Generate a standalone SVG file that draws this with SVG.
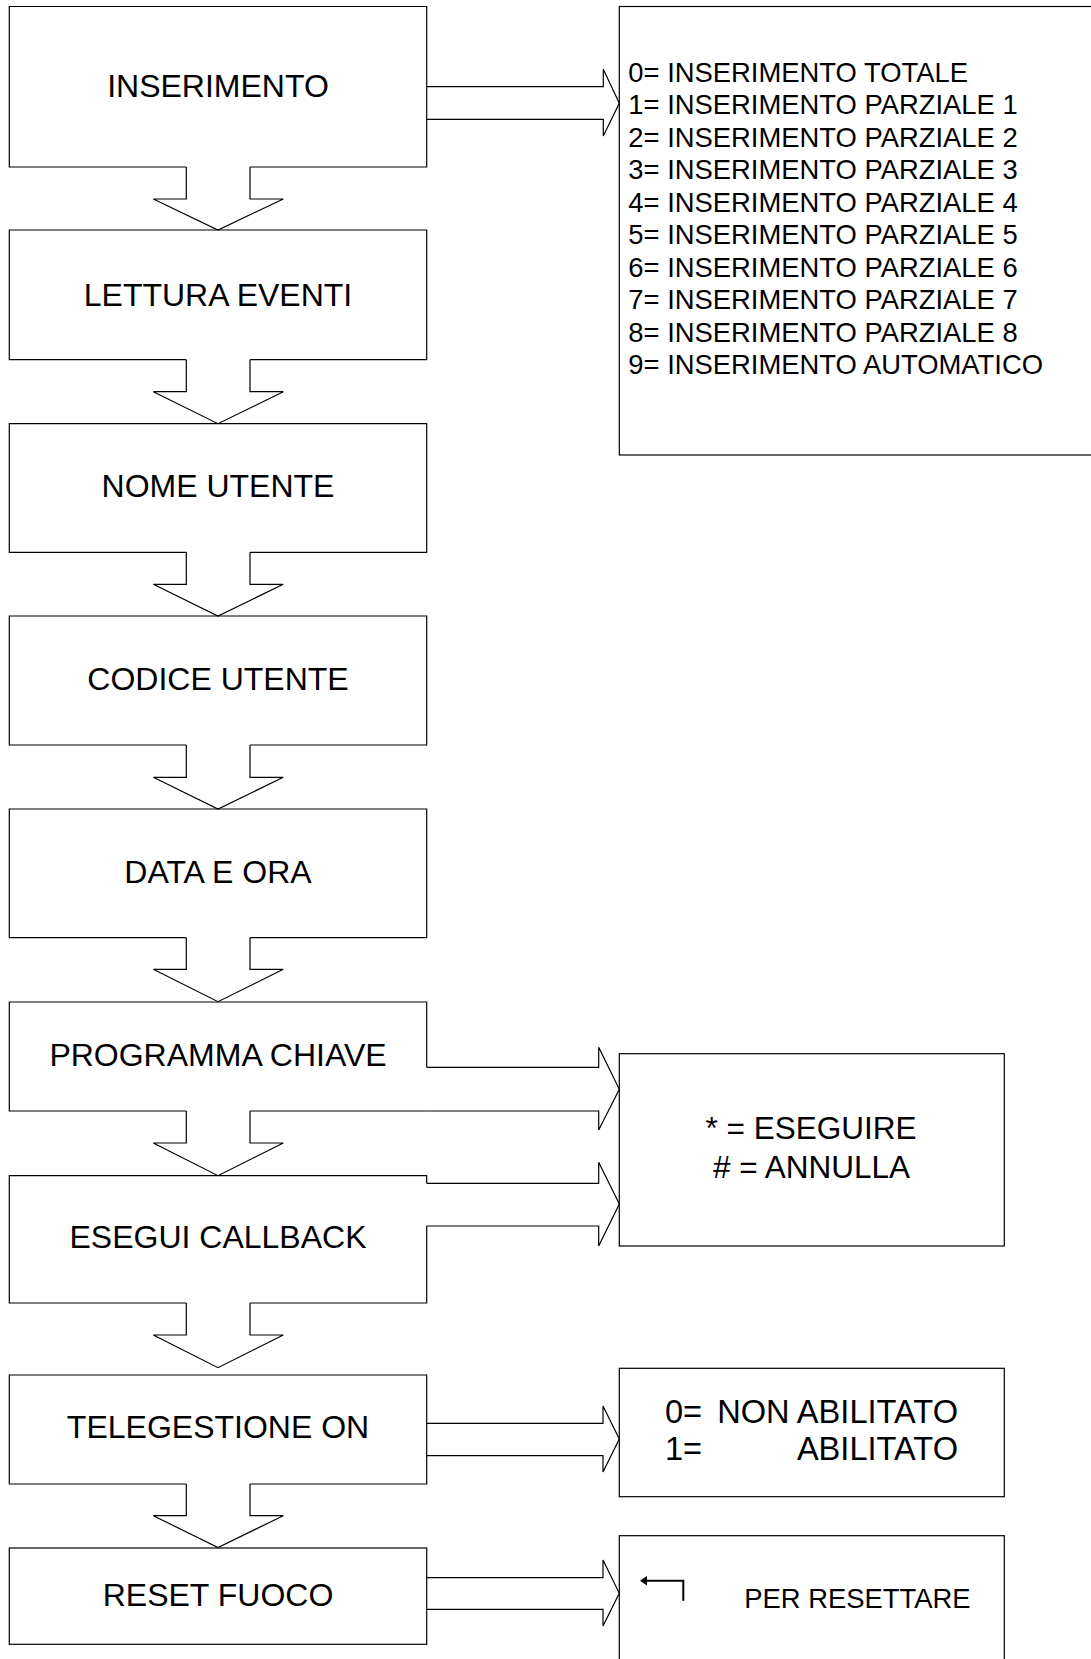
<svg xmlns="http://www.w3.org/2000/svg" width="1091" height="1659" viewBox="0 0 1091 1659">
<style>
.ln{fill:none;stroke:#000;stroke-width:1.2}
.t{font-family:"Liberation Sans",Arial,sans-serif;fill:#000}
.m{font-size:32px;text-anchor:middle}
.s{font-size:27.4px}
.c{font-size:31.5px}
.a{font-size:32.6px}
</style>
<rect width="1091" height="1659" fill="#fff"/>
<g id="n-inserimento"><path class="ln" d="M186.3,167 H9.3 V6.5 H426.7 V167 H250"/><text class="t m" x="218" y="96.7">INSERIMENTO</text></g>
<g id="n-lettura"><path class="ln" d="M186.3,359.7 H9.3 V230 H426.7 V359.7 H250"/><text class="t m" x="218" y="305.5">LETTURA EVENTI</text></g>
<g id="n-nome"><path class="ln" d="M186.3,552.3 H9.3 V423.7 H426.7 V552.3 H250"/><text class="t m" x="218" y="497.3">NOME UTENTE</text></g>
<g id="n-codice"><path class="ln" d="M186.3,745 H9.3 V616 H426.7 V745 H250"/><text class="t m" x="218" y="690">CODICE UTENTE</text></g>
<g id="n-data"><path class="ln" d="M186.3,937.7 H9.3 V809 H426.7 V937.7 H250"/><text class="t m" x="218" y="883.3">DATA E ORA</text></g>
<g id="n-chiave"><path class="ln" d="M186.3,1111 H9.3 V1002 H426.7 V1067.3 M426.7,1111 H250"/><text class="t m" x="218" y="1065.7">PROGRAMMA CHIAVE</text></g>
<g id="n-callback"><path class="ln" d="M186.3,1303 H9.3 V1175.7 H426.7 V1183.3 M426.7,1226 V1303 H250"/><text class="t m" x="218" y="1248.3">ESEGUI CALLBACK</text></g>
<g id="n-telegestione"><path class="ln" d="M186.3,1484 H9.3 V1375 H426.7 V1484 H250"/><text class="t m" x="218" y="1438.3">TELEGESTIONE ON</text></g>
<g id="n-reset"><rect class="ln" x="9.3" y="1548" width="417.4" height="96.3"/><text class="t m" x="218" y="1605.7">RESET FUOCO</text></g>
<g id="n-lista">
<rect class="ln" x="619.3" y="6.5" width="480" height="448.5"/>
<g class="t s">
<text x="628.3" y="81.7">0= INSERIMENTO TOTALE</text>
<text x="628.3" y="114.2">1= INSERIMENTO PARZIALE 1</text>
<text x="628.3" y="146.7">2= INSERIMENTO PARZIALE 2</text>
<text x="628.3" y="179.2">3= INSERIMENTO PARZIALE 3</text>
<text x="628.3" y="211.7">4= INSERIMENTO PARZIALE 4</text>
<text x="628.3" y="244.2">5= INSERIMENTO PARZIALE 5</text>
<text x="628.3" y="276.7">6= INSERIMENTO PARZIALE 6</text>
<text x="628.3" y="309.2">7= INSERIMENTO PARZIALE 7</text>
<text x="628.3" y="341.7">8= INSERIMENTO PARZIALE 8</text>
<text x="628.3" y="374.2">9= INSERIMENTO AUTOMATICO</text>
</g>
</g>
<g id="n-eseguire"><rect class="ln" x="619.3" y="1053.7" width="385" height="192.3"/><text class="t c" x="811" y="1139" text-anchor="middle">* = ESEGUIRE</text><text class="t c" x="811.5" y="1177.7" text-anchor="middle"># = ANNULLA</text></g>
<g id="n-abilitato"><rect class="ln" x="619.3" y="1368.3" width="385" height="128.4"/><text class="t a" x="665" y="1422.7">0=</text><text class="t a" x="958" y="1422.7" text-anchor="end">NON ABILITATO</text><text class="t a" x="665" y="1460">1=</text><text class="t a" x="958" y="1460" text-anchor="end">ABILITATO</text></g>
<g id="n-resettare"><rect class="ln" x="619.3" y="1535.7" width="385" height="140"/><path d="M645,1580.7 H683.3 V1600.7" fill="none" stroke="#000" stroke-width="2"/><polygon points="640,1580.7 647,1576 647,1585.4" fill="#000"/><text class="t s" x="744.3" y="1607.7">PER RESETTARE</text></g>
<g id="connectors">
<polyline class="ln" points="186.3,167 186.3,199 153.3,199 218,230 283.3,199 250,199 250,167"/>
<polyline class="ln" points="186.3,359.7 186.3,391.7 153.3,391.7 218,423.7 283.3,391.7 250,391.7 250,359.7"/>
<polyline class="ln" points="186.3,552.3 186.3,584.3 153.3,584.3 218,616 283.3,584.3 250,584.3 250,552.3"/>
<polyline class="ln" points="186.3,745 186.3,777.3 153.3,777.3 218,809 283.3,777.3 250,777.3 250,745"/>
<polyline class="ln" points="186.3,937.7 186.3,969.3 153.3,969.3 218,1001.7 283.3,969.3 250,969.3 250,937.7"/>
<polyline class="ln" points="186.3,1111 186.3,1143 153.3,1143 218,1175.7 283.3,1143 250,1143 250,1111"/>
<polyline class="ln" points="186.3,1303 186.3,1335 153.3,1335 218,1367.7 283.3,1335 250,1335 250,1303"/>
<polyline class="ln" points="186.3,1484 186.3,1515.7 153.3,1515.7 218,1547.5 283.3,1515.7 250,1515.7 250,1484"/>
<polyline class="ln" points="426.7,86.7 603.3,86.7 603.3,69.3 619.3,103.3 603.3,136 603.3,119.3 426.7,119.3"/>
<polyline class="ln" points="426.7,1067.3 598.7,1067.3 598.7,1047.3 619.3,1089.3 598.7,1130 598.7,1111 426.7,1111"/>
<polyline class="ln" points="426.7,1183.3 598.7,1183.3 598.7,1162.3 619.3,1204 598.7,1246 598.7,1226 426.7,1226"/>
<polyline class="ln" points="426.7,1423.3 603,1423.3 603,1406 619.3,1439 603,1472 603,1455.7 426.7,1455.7"/>
<polyline class="ln" points="426.7,1577.7 603,1577.7 603,1560 619.3,1593.3 603,1626 603,1609.3 426.7,1609.3"/>
</g>
</svg>
